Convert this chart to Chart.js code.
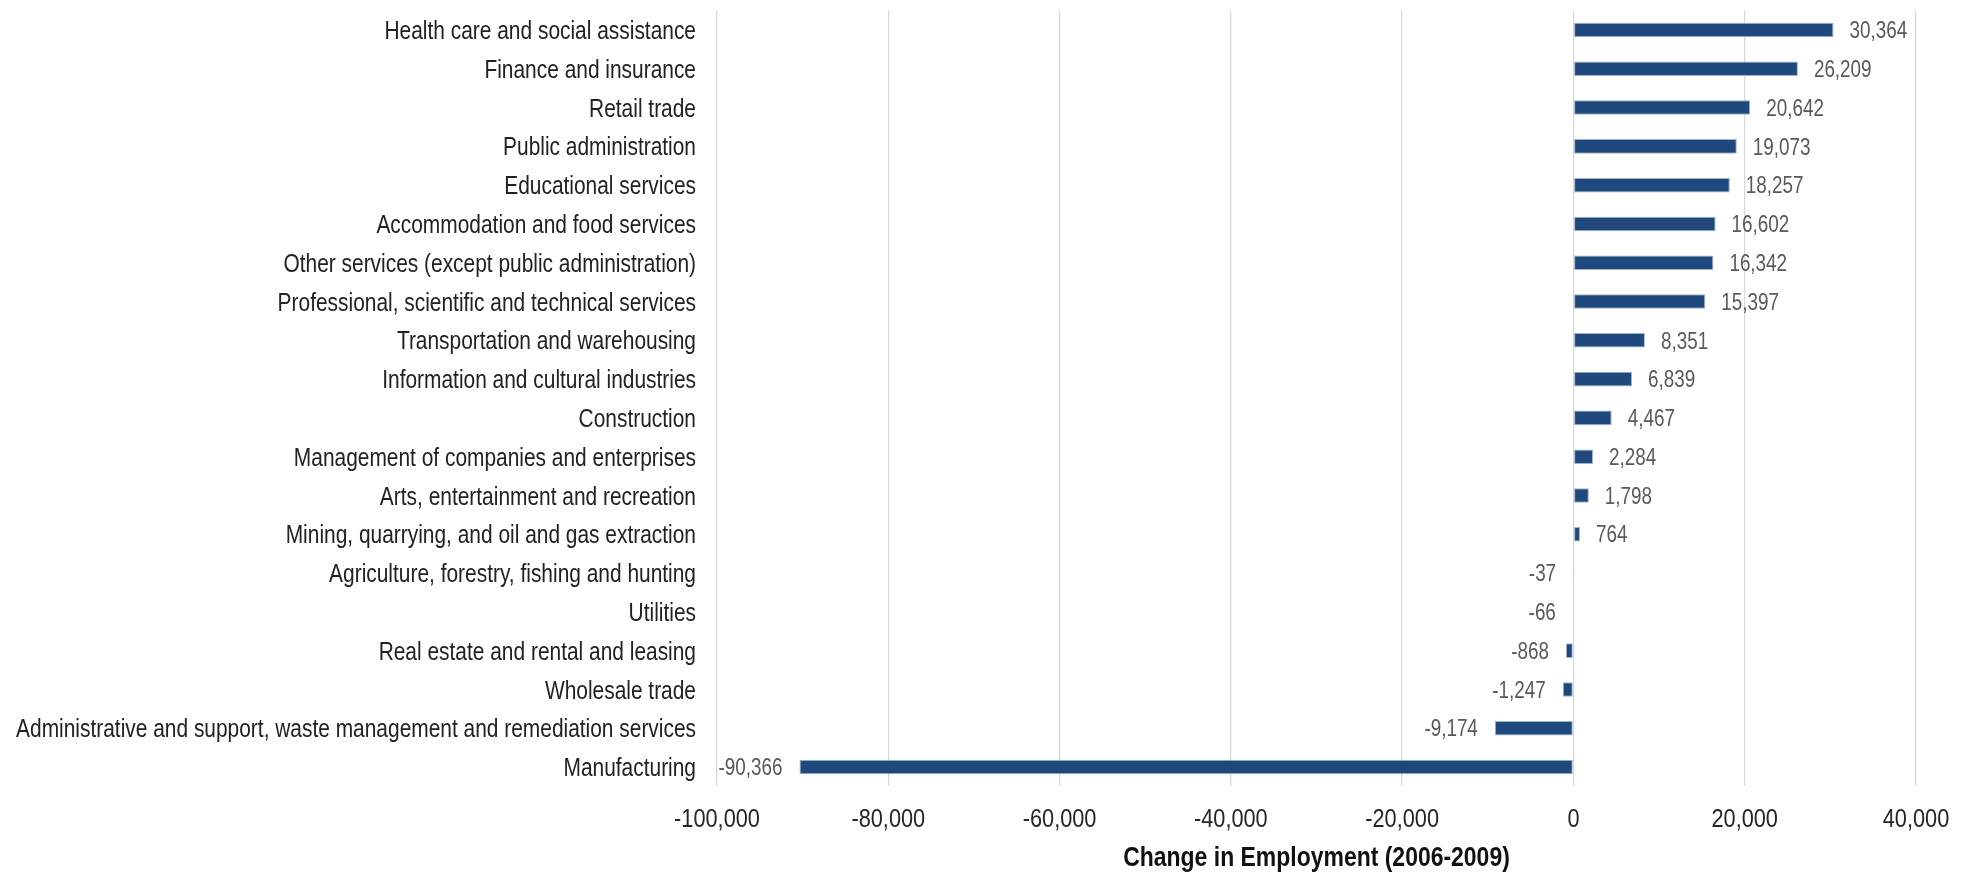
<!DOCTYPE html>
<html>
<head>
<meta charset="utf-8">
<script src="https://cdn.jsdelivr.net/npm/chart.js@4/dist/chart.umd.min.js"></script>
<style>
  html, body { margin: 0; padding: 0; background: #ffffff; }
  #wrap { width: 1973px; height: 875px; position: relative; }
</style>
</head>
<body>
<div id="wrap"><canvas id="chart" width="1973" height="875"></canvas></div>
<script>
// Employment change by industry, 2006-2009
const industries = [
  "Health care and social assistance",
  "Finance and insurance",
  "Retail trade",
  "Public administration",
  "Educational services",
  "Accommodation and food services",
  "Other services (except public administration)",
  "Professional, scientific and technical services",
  "Transportation and warehousing",
  "Information and cultural industries",
  "Construction",
  "Management of companies and enterprises",
  "Arts, entertainment and recreation",
  "Mining, quarrying, and oil and gas extraction",
  "Agriculture, forestry, fishing and hunting",
  "Utilities",
  "Real estate and rental and leasing",
  "Wholesale trade",
  "Administrative and support, waste management and remediation services",
  "Manufacturing"
];
const employmentChange = [
  30364, 26209, 20642, 19073, 18257, 16602, 16342, 15397, 8351, 6839,
  4467, 2284, 1798, 764, -37, -66, -868, -1247, -9174, -90366
];
const axisMin = -100000;
const axisMax = 40000;
const axisStep = 20000;
const axisTitle = "Change in Employment (2006-2009)";

const FAMILY = "'Liberation Sans', Arial, sans-serif";
const NARROW = 0.82;          // horizontal squeeze giving a narrow grotesque look
const fmt = new Intl.NumberFormat('en-US');

// Draws a line of text horizontally condensed, vertically centred on the cap height
function narrowText(ctx, text, x, yMid, align, size, weight, color) {
  ctx.save();
  ctx.font = (weight ? weight + ' ' : '') + size + 'px ' + FAMILY;
  ctx.fillStyle = color;
  ctx.textAlign = align;
  ctx.textBaseline = 'alphabetic';
  ctx.translate(x, yMid + size * 0.358);
  ctx.scale(NARROW, 1);
  ctx.fillText(text, 0, 0);
  ctx.restore();
}

// Category names, axis tick values, axis title and bar values
const textLayer = {
  id: 'textLayer',
  afterDraw(chart) {
    const ctx = chart.ctx;
    const xs = chart.scales.x;
    const ys = chart.scales.y;
    const area = chart.chartArea;

    industries.forEach((name, i) => {
      narrowText(ctx, name, area.left - 21, ys.getPixelForValue(i), 'right', 25.5, '', '#222222');
    });

    xs.ticks.forEach(t => {
      narrowText(ctx, fmt.format(t.value), xs.getPixelForValue(t.value), area.bottom + 31, 'center', 26.5, '', '#262626');
    });

    narrowText(ctx, axisTitle, (area.left + area.right) / 2, area.bottom + 70, 'center', 28, 'bold', '#111111');

    const meta = chart.getDatasetMeta(0);
    meta.data.forEach((bar, i) => {
      const v = employmentChange[i];
      if (v >= 0) {
        narrowText(ctx, fmt.format(v), bar.x + 16, bar.y, 'left', 23, '', '#595959');
      } else {
        narrowText(ctx, fmt.format(v), bar.x - 17, bar.y, 'right', 23, '', '#595959');
      }
    });
  }
};

new Chart(document.getElementById('chart'), {
  type: 'bar',
  data: {
    labels: industries,
    datasets: [{
      data: employmentChange,
      backgroundColor: '#1f497d',
      borderColor: '#9fb3cc',
      borderWidth: 1,
      borderSkipped: false,
      barPercentage: 0.375,
      categoryPercentage: 1.0
    }]
  },
  options: {
    indexAxis: 'y',
    responsive: false,
    animation: false,
    layout: { padding: { top: 10.6, right: 57, bottom: 0, left: 0 } },
    plugins: {
      legend: { display: false },
      tooltip: { enabled: false }
    },
    scales: {
      x: {
        min: axisMin,
        max: axisMax,
        ticks: { stepSize: axisStep, display: false },
        grid: { color: '#d9d9d9', lineWidth: 1.3, drawTicks: false },
        border: { display: false },
        afterFit(scale) { scale.height = 88.6; }
      },
      y: {
        ticks: { display: false, autoSkip: false },
        grid: { display: false, drawTicks: false },
        border: { display: false },
        afterFit(scale) { scale.width = 717; }
      }
    }
  },
  plugins: [textLayer]
});
</script>
</body>
</html>
